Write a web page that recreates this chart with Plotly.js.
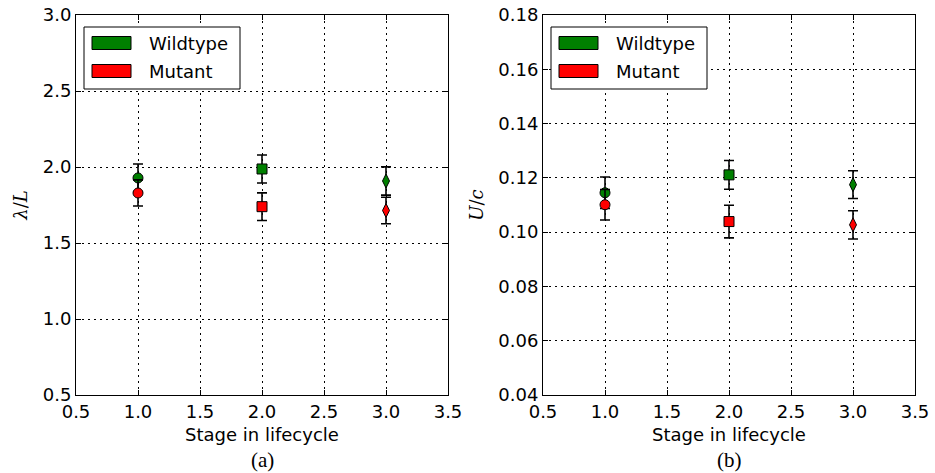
<!DOCTYPE html>
<html>
<head>
<meta charset="utf-8">
<script src="https://cdn.plot.ly/plotly-3.0.1.min.js"></script>
<style>html,body{margin:0;padding:0;background:#fff;}#chart{width:935px;height:473px;}</style>
</head>
<body>
<div id="chart"></div>
<script>
// Data
const stages = [1.0, 2.0, 3.0];
const symbols = ['circle', 'square', 'diamond-tall'];
const seriesNames = ['Wildtype', 'Mutant'];
const seriesColors = ['#008000', '#ff0000'];

// Panel (a): lambda / L
const wildLambda = [1.928, 1.987, 1.908];
const wildLambdaErr = [0.092, 0.092, 0.093];
const mutLambda = [1.829, 1.739, 1.714];
const mutLambdaErr = [0.086, 0.091, 0.087];

// Panel (b): U / c
const wildU = [0.1145, 0.1211, 0.1175];
const wildUErr = [0.0058, 0.0053, 0.0051];
const mutU = [0.1101, 0.1039, 0.1027];
const mutUErr = [0.0056, 0.0060, 0.0052];

const xTicks = [0.5, 1.0, 1.5, 2.0, 2.5, 3.0, 3.5];
const yTicksA = [0.5, 1.0, 1.5, 2.0, 2.5, 3.0];
const yTicksB = [0.04, 0.06, 0.08, 0.10, 0.12, 0.14, 0.16, 0.18];

const W = 935, H = 473, ML = 76, MR = 20, MT = 15, MB = 78;
const PW = W - ML - MR, PH = H - MT - MB;
const px = x => (x - ML) / PW;
const py = y => (H - MB - y) / PH;

function trace(y, err, i, xa, ya) {
  return {
    x: stages, y: y, type: 'scatter', mode: 'markers',
    name: seriesNames[i], showlegend: false,
    xaxis: xa, yaxis: ya,
    marker: {symbol: symbols, size: 10, color: seriesColors[i], line: {color: 'black', width: 1}},
    error_y: {type: 'data', array: err, visible: true, color: 'black', thickness: 1.6, width: 5}
  };
}

const data = [
  trace(wildLambda, wildLambdaErr, 0, 'x', 'y'),
  trace(mutLambda, mutLambdaErr, 1, 'x', 'y'),
  trace(wildU, wildUErr, 0, 'x2', 'y2'),
  trace(mutU, mutUErr, 1, 'x2', 'y2')
];

const font = {family: 'DejaVu Sans', size: 18, color: 'black'};
function xaxis(domain, anchor) {
  return {
    domain: domain, anchor: anchor, range: [0.5, 3.5],
    tickvals: xTicks, ticktext: xTicks.map(v => v.toFixed(1)),
    ticks: 'inside', ticklen: 5, tickcolor: 'black', tickwidth: 1,
    showline: true, linecolor: 'black', linewidth: 1, mirror: 'ticks',
    showgrid: true, gridcolor: 'black', gridwidth: 1, griddash: '2px,4px',
    zeroline: false, tickfont: font,
    title: {text: 'Stage in lifecycle', font: font, standoff: 7}
  };
}
function yaxis(domain, anchor, range, ticks, dec, title) {
  return {
    domain: domain, anchor: anchor, range: range,
    tickvals: ticks, ticktext: ticks.map(v => v.toFixed(dec)),
    ticks: 'inside', ticklen: 5, tickcolor: 'black', tickwidth: 1,
    showline: true, linecolor: 'black', linewidth: 1, mirror: 'ticks',
    showgrid: true, gridcolor: 'black', gridwidth: 1, griddash: '2px,4px',
    zeroline: false, tickfont: font,
    title: {text: title, font: {family: 'DejaVu Serif', size: 18, color: 'black'}, standoff: 10}
  };
}

const leftDom = [0, px(448)];
const rightDom = [px(543), 1];

const shapes = [], annotations = [];
[0, 467].forEach(dx => {
  shapes.push({type: 'rect', xref: 'paper', yref: 'paper',
    x0: px(84 + dx), x1: px(240 + dx), y0: py(89), y1: py(27),
    line: {color: 'black', width: 1}, fillcolor: 'white', layer: 'above'});
  [[36.5, 49.5, 43], [64.5, 77.5, 71]].forEach((r, i) => {
    shapes.push({type: 'rect', xref: 'paper', yref: 'paper',
      x0: px(92 + dx), x1: px(131 + dx), y0: py(r[1]), y1: py(r[0]),
      line: {color: 'black', width: 1}, fillcolor: seriesColors[i], layer: 'above'});
    annotations.push({xref: 'paper', yref: 'paper', x: px(147 + dx), y: py(r[2]),
      xanchor: 'left', yanchor: 'middle', showarrow: false,
      text: seriesNames[i], font: font});
  });
});
annotations.push({xref: 'paper', yref: 'paper', x: px(262), y: py(460),
  xanchor: 'center', yanchor: 'middle', showarrow: false,
  text: '(a)', font: {family: 'Liberation Serif', size: 21, color: 'black'}});
annotations.push({xref: 'paper', yref: 'paper', x: px(729), y: py(460),
  xanchor: 'center', yanchor: 'middle', showarrow: false,
  text: '(b)', font: {family: 'Liberation Serif', size: 21, color: 'black'}});

const layout = {
  width: W, height: H,
  margin: {l: ML, r: MR, t: MT, b: MB},
  paper_bgcolor: 'white', plot_bgcolor: 'white',
  showlegend: false,
  xaxis: xaxis(leftDom, 'y'),
  yaxis: yaxis([0, 1], 'x', [0.5, 3.0], yTicksA, 1, '<i>λ</i>/<i>L</i>'),
  xaxis2: xaxis(rightDom, 'y2'),
  yaxis2: yaxis([0, 1], 'x2', [0.04, 0.18], yTicksB, 2, '<i>U</i>/<i>c</i>'),
  shapes: shapes,
  annotations: annotations
};

Plotly.newPlot('chart', data, layout, {displayModeBar: false, staticPlot: true});
</script>
</body>
</html>
